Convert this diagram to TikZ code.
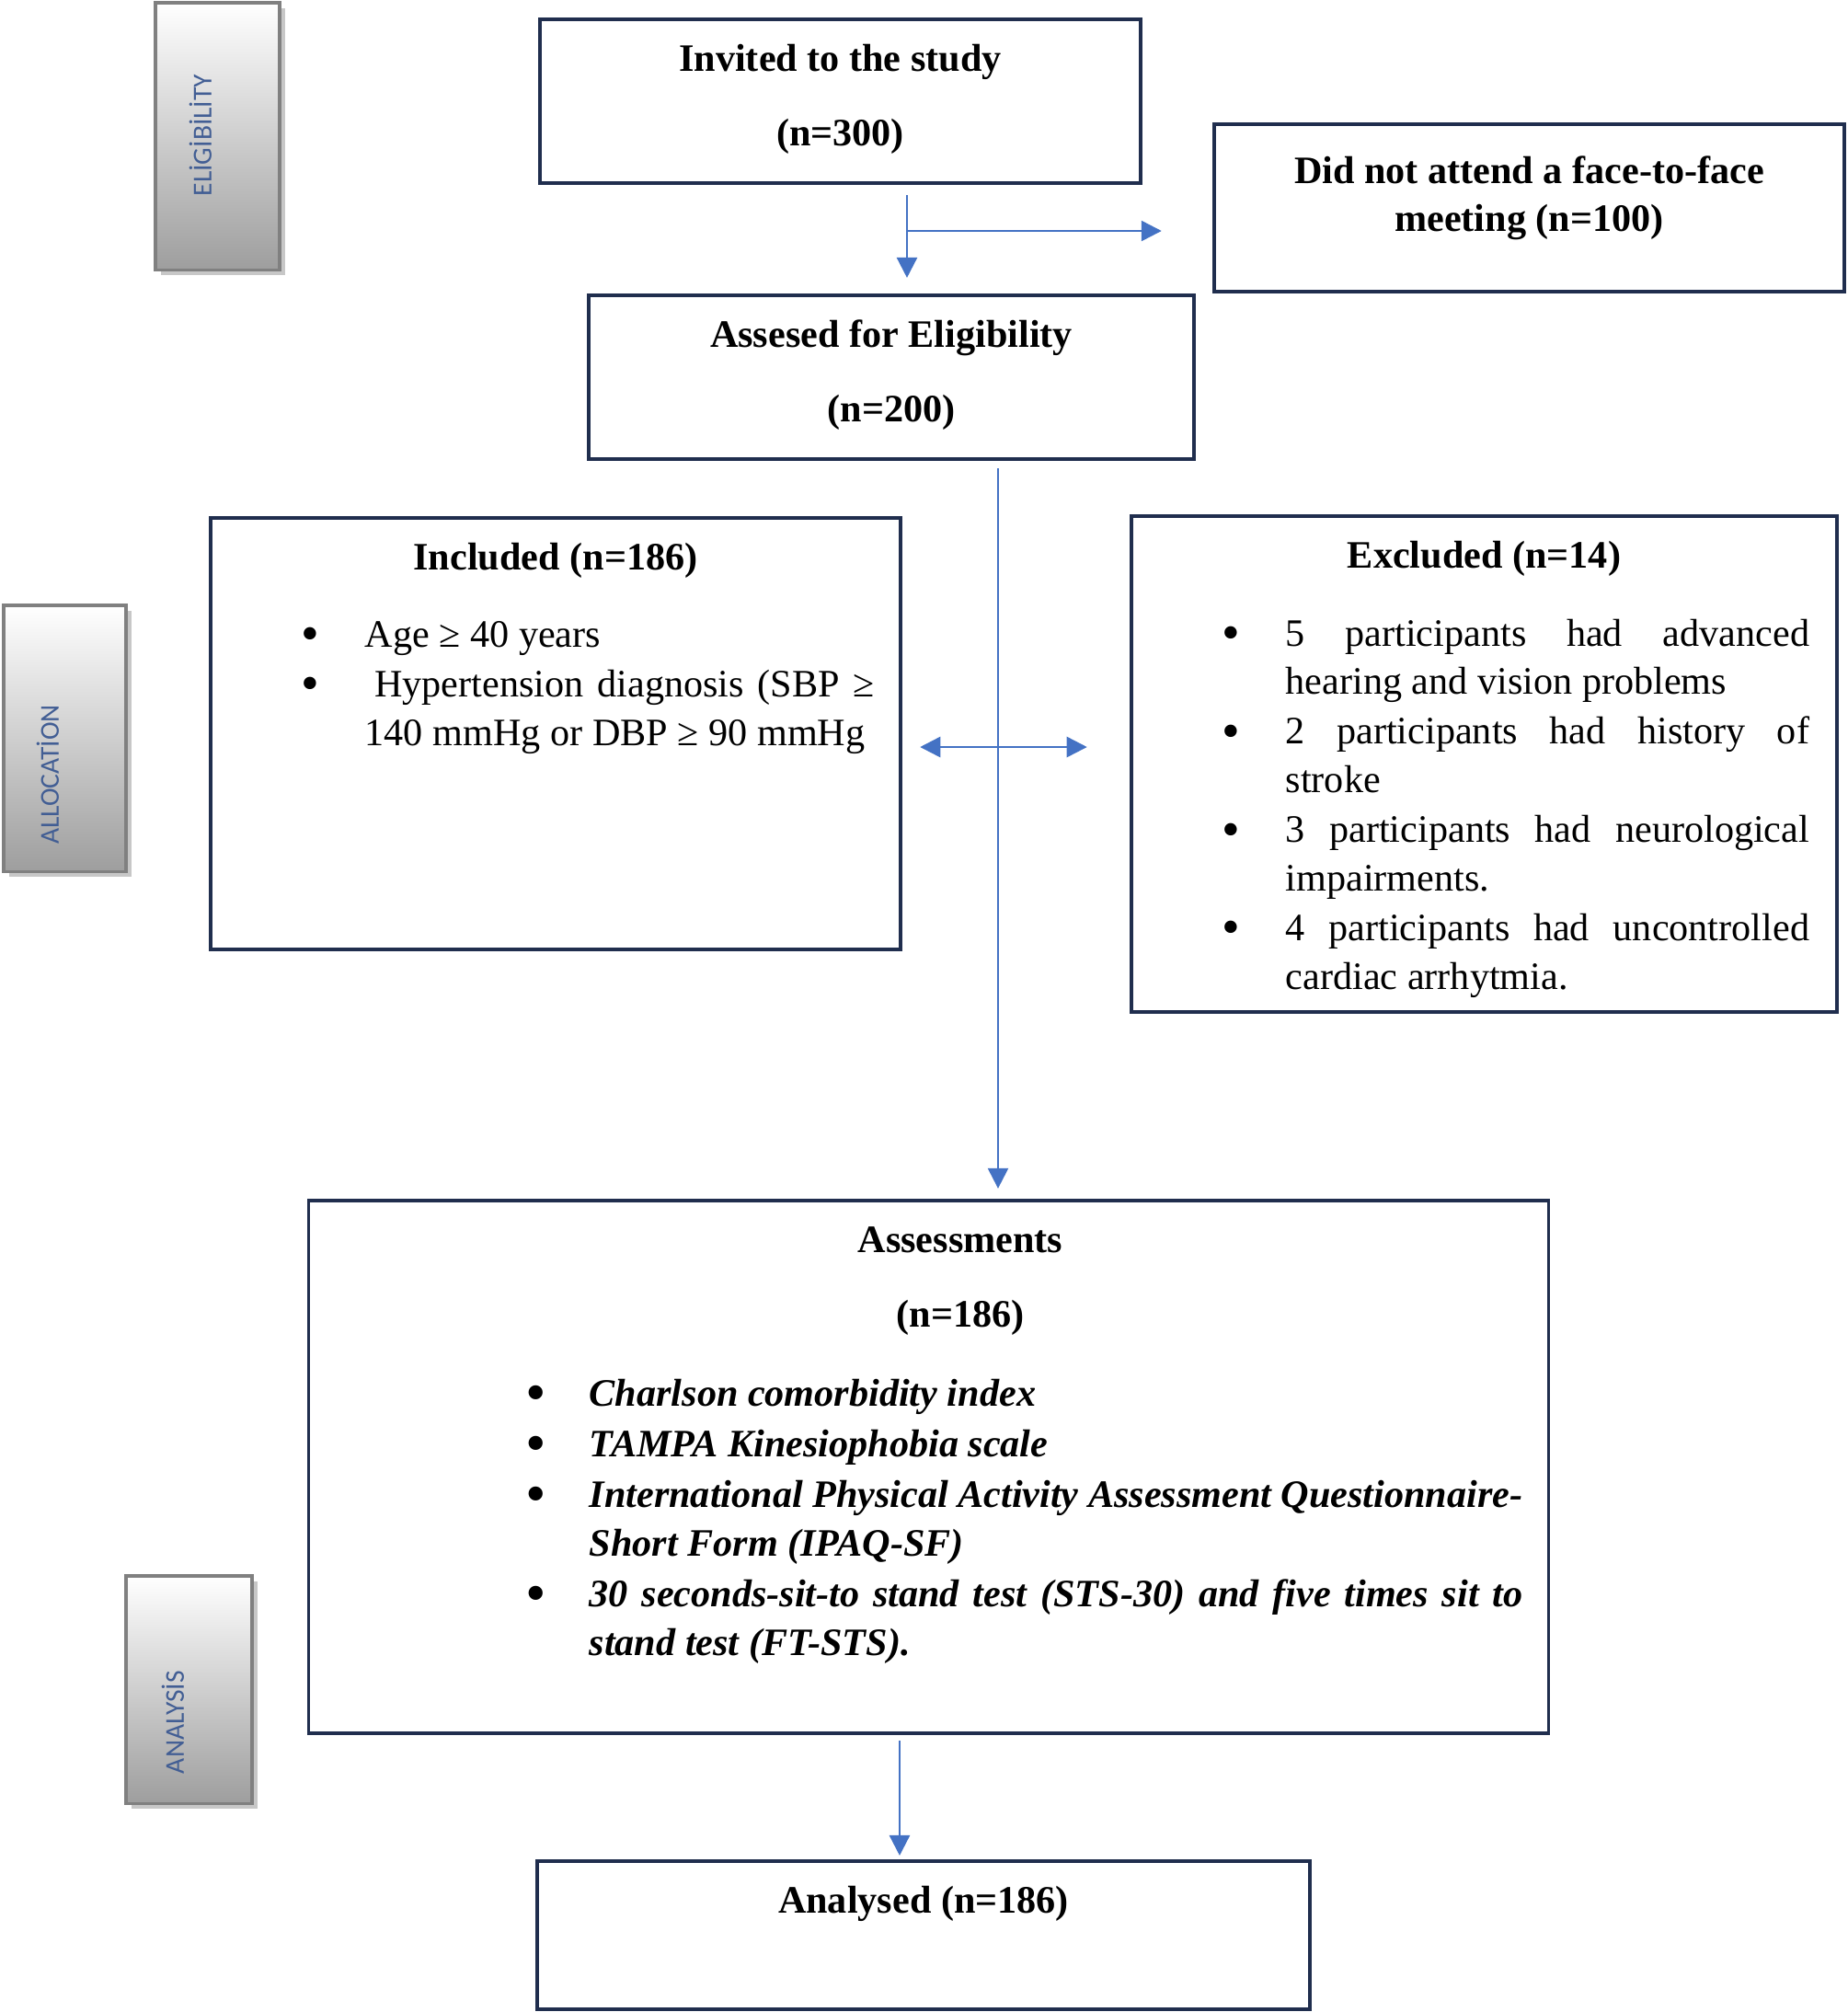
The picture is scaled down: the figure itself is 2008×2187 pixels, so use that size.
\documentclass[tikz,border=0pt]{standalone}
\usepackage{fontspec}
\setmainfont{Liberation Serif}
\newfontfamily\sidefont{Carlito}
\usetikzlibrary{arrows.meta,shadows}
\definecolor{navy}{RGB}{32,46,78}
\definecolor{arrowblue}{RGB}{68,114,196}
\definecolor{sidetext}{RGB}{66,94,148}
\definecolor{sidegray}{RGB}{128,128,128}
\definecolor{sidebottom}{RGB}{158,158,158}
\newcommand\bul{\raisebox{-1.2pt}{\fontsize{16}{15}\selectfont\textbullet}}
\begin{document}
\begin{tikzpicture}[x=0.01cm,y=-0.01cm,
  box/.style={draw=navy,line width=1pt,inner sep=0pt,outer sep=0pt,rectangle},
  sidebox/.style={draw=sidegray,line width=0.9pt,top color=white,bottom color=sidebottom,inner sep=0pt,outer sep=0pt,
    drop shadow={shadow xshift=1.6pt,shadow yshift=-1.6pt,fill=black!22,opacity=1}},
  sidelabel/.style={rotate=90,text=sidetext,font=\sidefont\fontsize{8.4}{10}\selectfont,inner sep=0pt},
  ttl/.style={font=\fontsize{12}{15}\selectfont\bfseries,anchor=base,inner sep=0pt},
  lst/.style={anchor=base west,inner sep=0pt,font=\fontsize{12}{15}\selectfont},
  arr/.style={draw=arrowblue,line width=0.7pt,-{Triangle[length=0.22cm,width=0.22cm]}},
  dbl/.style={draw=arrowblue,line width=0.7pt,{Triangle[length=0.22cm,width=0.22cm]}-{Triangle[length=0.22cm,width=0.22cm]}},
]
\useasboundingbox (0,0) rectangle (2008,2187);
\fill[white] (0,0) rectangle (2008,2187);

% side phase labels
\node[sidebox,minimum width=1.35cm,minimum height=2.90cm] (elig) at (236.5,148) {};
\node[sidelabel] (eligt) at (218,147) {ELİGİBİLİTY};
\node[sidebox,minimum width=1.33cm,minimum height=2.89cm] (alloc) at (70.5,802.5) {};
\node[sidelabel] (alloct) at (52,842) {ALLOCATİON};
\node[sidebox,minimum width=1.37cm,minimum height=2.47cm] (anal) at (205.5,1836.5) {};
\node[sidelabel] (analt) at (188,1872) {ANALYSİS};

% main boxes
\node[box,minimum width=6.53cm,minimum height=1.78cm] (invited) at (913.5,110) {};
\node[box,minimum width=6.85cm,minimum height=1.82cm] (noattend) at (1662.5,226) {};
\node[box,minimum width=6.58cm,minimum height=1.78cm] (assessed) at (969,410) {};
\node[box,minimum width=7.50cm,minimum height=4.69cm] (included) at (604,797.5) {};
\node[box,minimum width=7.67cm,minimum height=5.39cm] (excluded) at (1613.5,830.5) {};
\node[box,minimum width=13.47cm,minimum height=5.79cm] (assessments) at (1009.5,1594.5) {};
\node[box,minimum width=8.40cm,minimum height=1.61cm] (analysed) at (1004,2103.5) {};

% titles
\node[ttl] (t1a) at (913.5,77) {Invited to the study};
\node[ttl] (t1b) at (913.5,158) {(n=300)};
\node[ttl] (t2a) at (1662.5,199) {Did not attend a face-to-face};
\node[ttl] (t2b) at (1662.5,251) {meeting (n=100)};
\node[ttl] (t3a) at (969,377) {Assesed for Eligibility};
\node[ttl] (t3b) at (969,458) {(n=200)};
\node[ttl] (t4) at (604,619) {Included (n=186)};
\node[ttl] (t5) at (1613.5,617) {Excluded (n=14)};
\node[ttl] (t6a) at (1044,1361) {Assessments};
\node[ttl] (t6b) at (1044,1442) {(n=186)};
\node[ttl] (t7) at (1004,2079) {Analysed (n=186)};

% lists
\node[lst] (inclist) at (327,703) {\begin{tabular}[t]{@{}p{0.69cm}@{}p{5.54cm}@{}}
\bul & Age ≥ 40 years\\[0.5pt]
\bul & \hspace{0.105cm}Hypertension\hfill diagnosis\hfill (SBP\hfill ≥\newline 140 mmHg or DBP ≥ 90 mmHg
\end{tabular}};

\node[lst] (exclist) at (1328,702) {\begin{tabular}[t]{@{}p{0.69cm}@{}p{5.69cm}@{}}
\bul & 5\hfill participants\hfill had\hfill advanced\newline hearing and vision problems\\[0.4pt]
\bul & 2\hfill participants\hfill had\hfill history\hfill of\newline stroke\\[0.4pt]
\bul & 3\hfill participants\hfill had\hfill neurological\newline impairments.\\[0.4pt]
\bul & 4\hfill participants\hfill had\hfill uncontrolled\newline cardiac arrhytmia.
\end{tabular}};

\node[lst,font=\fontsize{12}{15}\selectfont\bfseries\itshape] (asslist) at (572,1528) {\begin{tabular}[t]{@{}p{0.68cm}@{}p{10.14cm}@{}}
\bul & Charlson comorbidity index\\[0.7pt]
\bul & TAMPA Kinesiophobia scale\\[0.7pt]
\bul & International\hfill Physical\hfill Activity\hfill Assessment\hfill Questionnaire-\newline Short Form (IPAQ-SF)\\[0.7pt]
\bul & 30\hfill seconds-sit-to\hfill stand\hfill test\hfill (STS-30)\hfill and\hfill five\hfill times\hfill sit\hfill to\newline stand test (FT-STS).
\end{tabular}};

% connectors
\coordinate (c1) at (986,251);
\coordinate (spine) at (1085,812);
\coordinate (c5) at (978,1950);
\draw[arr,shorten <=0.13cm,shorten >=0.19cm] (c1 |- invited.south) -- (c1 |- assessed.north);
\draw[arr,shorten >=0.57cm] (c1) -- (c1 -| noattend.west);
\draw[arr,shorten <=0.10cm,shorten >=0.13cm] (spine |- assessed.south) -- (spine |- assessments.north);
\draw[dbl,shorten <=0.21cm,shorten >=0.48cm] (included.east |- spine) -- (excluded.west |- spine);
\draw[arr,shorten <=0.08cm,shorten >=0.06cm] (c5 |- assessments.south) -- (c5 |- analysed.north);
\end{tikzpicture}
\end{document}
